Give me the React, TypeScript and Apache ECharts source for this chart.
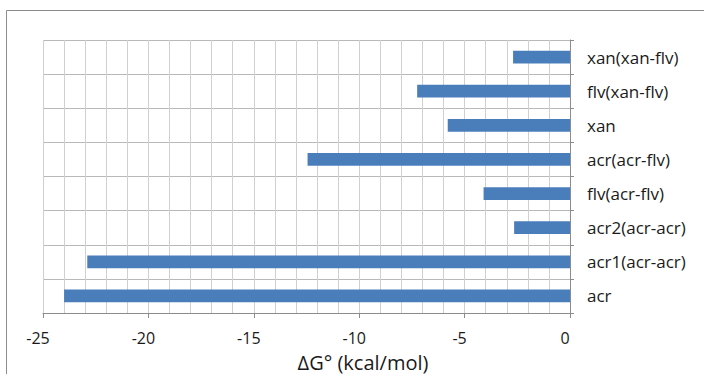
import React, { useEffect, useRef } from "react";
import * as echarts from "echarts";

const categories = [
  "acr",
  "acr1(acr-acr)",
  "acr2(acr-acr)",
  "flv(acr-flv)",
  "acr(acr-flv)",
  "xan",
  "flv(xan-flv)",
  "xan(xan-flv)",
];
const deltaG = [-24.0, -22.9, -2.65, -4.1, -12.45, -5.8, -7.25, -2.7];
const axisName = "ΔG° (kcal/mol)";
const xMin = -25;
const xMax = 0;

const FONT = "'Open Sans', 'Noto Sans', sans-serif";

export default function App() {
  const ref = useRef<HTMLDivElement>(null);
  useEffect(() => {
    document.body.style.margin = "0";
    const chart = echarts.init(ref.current!, null, { renderer: "svg" });
    chart.setOption({
      animation: false,
      backgroundColor: "#ffffff",
      grid: { left: 43, right: 134, top: 40, bottom: 61, containLabel: false },
      graphic: [
        {
          type: "rect",
          shape: { x: 6.5, y: 10.5, width: 720, height: 400 },
          style: { fill: "none", stroke: "#8c8c8c", lineWidth: 1 },
          silent: true,
        },
        {
          type: "text",
          x: 363,
          y: 362,
          style: {
            text: axisName,
            fontFamily: FONT,
            fontSize: 20,
            lineHeight: 20,
            fill: "#1a1a1a",
            textAlign: "center",
            textVerticalAlign: "middle",
          },
          silent: true,
        },
      ],
      xAxis: {
        type: "value",
        min: xMin,
        max: xMax,
        interval: 5,
        axisLine: { show: true, lineStyle: { color: "#8c8c8c", width: 1 } },
        axisTick: { show: true, length: 5, lineStyle: { color: "#8c8c8c" } },
        axisLabel: {
          fontFamily: FONT,
          fontSize: 16,
          lineHeight: 17,
          color: "#1a1a1a",
          margin: 16,
          padding: [0, 10, 0, 0],
        },
        splitLine: { show: true, lineStyle: { color: "#d0d0d0", width: 1 } },
        minorTick: { show: false, splitNumber: 5 },
        minorSplitLine: { show: true, lineStyle: { color: "#d0d0d0", width: 1 } },
      },
      yAxis: {
        type: "category",
        data: categories,
        position: "right",
        axisLine: { show: true, onZero: false, lineStyle: { color: "#8c8c8c" } },
        axisTick: { show: true, length: 4, lineStyle: { color: "#8c8c8c" } },
        axisLabel: { fontFamily: FONT, fontSize: 17, color: "#1a1a1a", margin: 17, align: "left" },
        splitLine: { show: true, lineStyle: { color: "#b8b8b8", width: 1 } },
      },
      series: [
        {
          type: "bar",
          data: deltaG,
          barWidth: "37%",
          itemStyle: { color: "#4a7ebb" },
        },
      ],
    });
    return () => chart.dispose();
  }, []);
  return <div ref={ref} style={{ width: 704, height: 374 }} />;
}
